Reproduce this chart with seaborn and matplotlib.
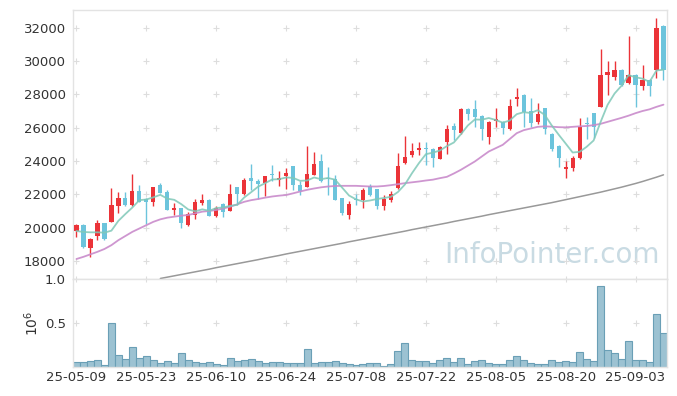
import numpy as np
import pandas as pd
import matplotlib
matplotlib.use("Agg")
import matplotlib.pyplot as plt
import seaborn as sns

# trading days (KRX), 2025-05-09 .. 2025-09-09
holidays = ["2025-06-03", "2025-06-06", "2025-08-15"]
dates = pd.bdate_range("2025-05-09", "2025-09-09", freq="C", holidays=holidays)

opens = [19820, 20160, 18800, 19480, 20280, 20360, 21310, 21780, 21360, 22200,
         21700, 21560, 22530, 22130, 21070, 21170, 20160, 20760, 21480, 21670,
         20700, 21410, 21020, 22460, 22010, 22970, 22770, 22680, 23230, 22830,
         23070, 23710, 22570, 22460, 23170, 24010, 22970, 22930, 21770, 20770,
         21710, 21670, 22510, 22330, 21270, 21670, 22400, 23870, 24370, 24630,
         24770, 24730, 24130, 25170, 26110, 25670, 27130, 27130, 26730, 25470,
         26410, 26330, 25910, 27710, 27970, 27010, 26370, 27180, 25630, 24910,
         23510, 23570, 24170, 26270, 26870, 27270, 29140, 29030, 29480, 28680,
         29180, 28520, 28880, 29450, 32090]
closes = [20160, 18820, 19320, 20280, 19340, 21360, 21770, 21360, 22200, 21560,
          21560, 22430, 22100, 21070, 21170, 20300, 20820, 21540, 21670, 20700,
          21170, 20960, 22030, 22010, 22870, 22770, 22630, 23070, 23130, 22970,
          23270, 22530, 22170, 23230, 23830, 22770, 22910, 21670, 20860, 21420,
          21650, 22270, 21970, 21270, 21730, 22030, 23710, 24210, 24610, 24790,
          24710, 24170, 24870, 25930, 25890, 27130, 26810, 26670, 25910, 26370,
          26530, 26010, 27310, 27850, 26970, 26280, 26830, 25910, 24710, 24170,
          23610, 24170, 26070, 26210, 26070, 29170, 29320, 29480, 28580, 29180,
          28580, 28880, 28520, 31990, 29450]
highs = [20200, 20200, 19400, 20460, 20300, 22370, 22130, 22160, 23210, 22570,
         21760, 22460, 22700, 22270, 21500, 21200, 20930, 21710, 22010, 21700,
         21270, 21500, 22630, 22460, 22970, 23830, 22910, 23070, 23770, 23370,
         23570, 23710, 22770, 24910, 24530, 24430, 23630, 23170, 21800, 21570,
         22010, 22370, 22610, 22330, 21930, 22170, 24470, 25530, 25070, 25150,
         25130, 24760, 24930, 26170, 26270, 27160, 27160, 27670, 26760, 26400,
         27210, 26400, 27710, 28370, 28000, 27770, 27480, 27210, 25660, 24940,
         23970, 24310, 26570, 26670, 26900, 30720, 30020, 30030, 29510, 31520,
         29210, 29780, 28910, 32590, 32180]
lows = [19460, 18780, 18220, 19260, 19260, 20330, 20860, 21270, 21270, 21530,
        20220, 21300, 22070, 21030, 20770, 20000, 20100, 20520, 21330, 20670,
        20620, 20660, 20990, 21360, 21970, 22270, 21710, 21910, 22770, 22510,
        22310, 22270, 21970, 22430, 23140, 22710, 21970, 21640, 20770, 20520,
        21370, 21170, 21910, 21110, 21070, 21560, 22310, 23840, 24230, 24340,
        23750, 23630, 24100, 24410, 25270, 25610, 26490, 26070, 25270, 25010,
        26070, 25610, 25880, 27310, 26070, 26070, 26230, 25610, 24570, 23630,
        22970, 23370, 24110, 25310, 25370, 27240, 27980, 28850, 28520, 28650,
        27270, 28280, 27910, 28990, 28880]
volumes = [56000, 56000, 70000, 83000, 23000, 500000, 135000, 94000, 226000, 105000,
           124000, 83000, 50000, 70000, 50000, 160000, 83000, 60000, 50000, 60000,
           34000, 23000, 100000, 70000, 80000, 90000, 70000, 50000, 60000, 60000,
           50000, 50000, 40000, 200000, 50000, 60000, 60000, 70000, 45000, 34000,
           23000, 34000, 45000, 45000, 10000, 34000, 180000, 270000, 80000, 70000,
           70000, 45000, 80000, 100000, 56000, 100000, 34000, 70000, 80000, 45000,
           34000, 34000, 80000, 124000, 80000, 45000, 34000, 34000, 80000, 56000,
           70000, 56000, 170000, 90000, 70000, 920000, 190000, 160000, 90000, 300000,
           80000, 80000, 60000, 600000, 390000]
ma5 = [19800, 19740, 19720, 19720, 19700, 19820, 20410, 20820, 21210, 21650,
       21690, 21820, 21970, 21740, 21670, 21410, 21090, 20980, 21100, 21010,
       21180, 21210, 21310, 21370, 21810, 22130, 22460, 22670, 22890, 22910,
       23010, 22990, 22810, 22830, 23010, 22910, 22980, 22880, 22410, 21930,
       21700, 21570, 21630, 21720, 21780, 21850, 22140, 22590, 23260, 23870,
       24410, 24500, 24630, 24890, 25110, 25600, 26130, 26490, 26480, 26580,
       26460, 26300, 26430, 26810, 26930, 26880, 27050, 26770, 26140, 25580,
       25050, 24510, 24550, 24850, 25230, 26340, 27370, 28050, 28520, 29150,
       29030, 28940, 28750, 29430, 29480]
ma20 = [18120, 18250, 18400, 18550, 18720, 18950, 19250, 19500, 19750, 19950,
        20150, 20350, 20500, 20600, 20660, 20720, 20760, 20860, 20960, 21000,
        21060, 21150, 21260, 21400, 21550, 21650, 21720, 21800, 21870, 21920,
        21960, 22060, 22170, 22270, 22350, 22420, 22470, 22500, 22510, 22510,
        22510, 22490, 22470, 22470, 22500, 22550, 22610, 22670, 22720, 22770,
        22830, 22880, 22970, 23050, 23250, 23470, 23720, 23970, 24270, 24570,
        24770, 24970, 25320, 25670, 25850, 25950, 26050, 26080, 26060, 26030,
        26020, 26050, 26080, 26100, 26150, 26230, 26350, 26470, 26590, 26720,
        26870, 27000, 27100, 27250, 27380]
ma120 = [np.nan] * 12 + [
    16950, 17030, 17110, 17190, 17270, 17350, 17430, 17510,
    17600, 17680, 17760, 17840, 17920, 18000, 18080, 18170, 18250, 18330,
    18420, 18500, 18580, 18660, 18740, 18820, 18900, 18980, 19060, 19150,
    19230, 19310, 19390, 19470, 19550, 19630, 19710, 19790, 19880, 19960,
    20040, 20120, 20200, 20280, 20370, 20450, 20530, 20610, 20690, 20780,
    20860, 20940, 21020, 21100, 21180, 21260, 21340, 21420, 21500, 21590,
    21680, 21770, 21860, 21950, 22040, 22130, 22230, 22330, 22430, 22540,
    22650, 22770, 22900, 23030, 23170]

df = pd.DataFrame({"open": opens, "high": highs, "low": lows, "close": closes,
                   "volume": volumes, "ma5": ma5, "ma20": ma20, "ma120": ma120})
df["x"] = np.arange(len(df))
df["vol_m"] = df["volume"] / 1e6

sns.set_style("white")
plt.rcParams["font.family"] = ["DejaVu Sans"]

fig = plt.figure(figsize=(6.77, 3.96), dpi=100)
ax1 = fig.add_axes([0.1078, 0.2955, 0.8774, 0.6792])
ax2 = fig.add_axes([0.1078, 0.0732, 0.8774, 0.2223])

up_col = "#eb3338"
down_col = "#6cc4dc"
up = df["close"] >= df["open"]
colors = np.where(up, up_col, down_col)

ax1.text(0.988, 0.088, "InfoPointer.com", transform=ax1.transAxes,
         ha="right", va="center", fontsize=20, color="#c9dbe3", zorder=0)

ax1.vlines(df["x"], df["low"], df["high"], colors=colors, linewidth=1.0, zorder=2)
body_bottom = np.minimum(df["open"], df["close"])
body_h = np.maximum(np.abs(df["close"] - df["open"]), 60)
ax1.bar(df["x"], body_h, bottom=body_bottom, width=0.6, color=colors,
        linewidth=0, zorder=3)

sns.lineplot(data=df, x="x", y="ma120", ax=ax1, color="#999999", linewidth=1.1, zorder=4)
sns.lineplot(data=df, x="x", y="ma20", ax=ax1, color="#c98bcb", linewidth=1.3, alpha=0.9, zorder=4)
sns.lineplot(data=df, x="x", y="ma5", ax=ax1, color="#7fc8b8", linewidth=1.3, alpha=0.85, zorder=5)

sns.barplot(data=df, x="x", y="vol_m", ax=ax2, native_scale=True, color="#9cc2d2",
            edgecolor="#6a9fb6", linewidth=0.8, width=1.0, saturation=1)

tick_pos = df["x"].iloc[::10].to_numpy()
tick_lab = [d.strftime("%y-%m-%d") for d in dates[::10]]
price_ticks = np.arange(18000, 32001, 2000)
vol_ticks = [0.5, 1.0]

for ax in (ax1, ax2):
    ax.set_xlim(-0.5, len(df) - 0.5)
    ax.set_xticks(tick_pos)
    ax.tick_params(length=0, labelsize=9.5, colors="#333333")
    for sp in ax.spines.values():
        sp.set_color("#e3e3e3")
        sp.set_linewidth(1.0)
    ax.grid(False)

ax1.set_ylim(16920, 33060)
ax1.set_yticks(price_ticks)
ax1.set_xticklabels([])
ax1.set_xlabel("")
ax1.set_ylabel("")
ax1.tick_params(axis="y", pad=5)

ax2.set_ylim(0, 1.0)
ax2.set_yticks(vol_ticks)
ax2.set_yticklabels(["0.5", "1.0"])
ax2.set_xticklabels(tick_lab)
ax2.set_xlabel("")
ax2.set_ylabel("$10^6$", fontsize=10, color="#333333", labelpad=3)
ax2.tick_params(axis="y", pad=5)
ax2.tick_params(axis="x", pad=3)

# grid crosses at tick intersections
gx, gy = np.meshgrid(tick_pos, price_ticks)
ax1.scatter(gx.ravel(), gy.ravel(), marker="+", s=22, color="#dddddd", linewidth=0.8, zorder=1)
gx, gy = np.meshgrid(tick_pos, vol_ticks)
ax2.scatter(gx.ravel(), gy.ravel(), marker="+", s=22, color="#dddddd", linewidth=0.8, zorder=1, clip_on=False)

fig.savefig("out.png", dpi=100)
